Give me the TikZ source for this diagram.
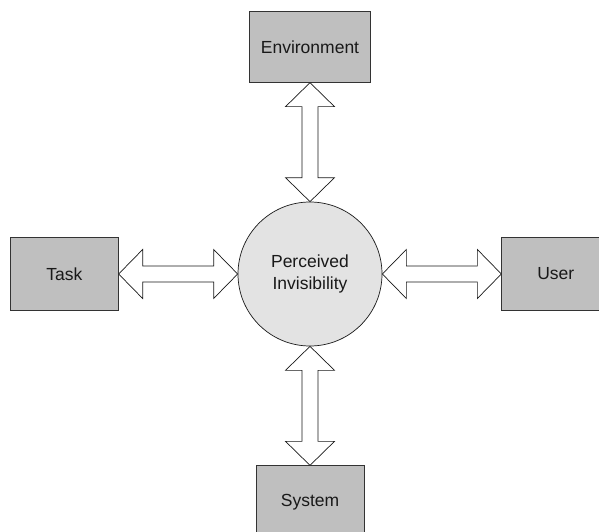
\documentclass[tikz,border=0pt]{standalone}
\usepackage{fontspec}
\setmainfont{Liberation Sans}
\usepackage{tikz}
\usetikzlibrary{positioning,calc}

\tikzset{
box/.style={draw=black!80,fill=black!25,line width=0.8pt,
  minimum width=108pt,minimum height=73pt,inner xsep=11pt},
hub/.style={circle,draw=black!90,fill=black!11,line width=0.7pt,
  minimum size=144pt,inner sep=0pt,align=center},
blockarrow/.style={draw=black!90,fill=white,line width=0.7pt,line join=miter}
}
% horizontal two-headed block arrow, left tip #1 to right tip #2
\newcommand{\harrow}[2]{%
\draw[blockarrow] (#1) -- ++(24,-24.5) -- ++(0,16.5) -- ($(#2)+(-24,-8)$)
  -- ++(0,-16.5) -- (#2) -- ++(-24,24.5) -- ++(0,-16.5) -- ($(#1)+(24,8)$)
  -- ++(0,16.5) -- cycle;}
% vertical two-headed block arrow, top tip #1 to bottom tip #2
\newcommand{\varrow}[2]{%
\draw[blockarrow] (#1) -- ++(-24.5,24) -- ++(16.5,0) -- ($(#2)+(-8,-24)$)
  -- ++(-16.5,0) -- (#2) -- ++(24.5,-24) -- ++(-16.5,0) -- ($(#1)+(8,24)$)
  -- ++(16.5,0) -- cycle;}

\begin{document}
\begin{tikzpicture}[x=1pt,y=-1pt,font=\fontsize{17.5}{22.4}\selectfont,
  text=black!90]
\useasboundingbox (0,0) rectangle (599,532);
\clip (0,0) rectangle (599,532);

\node[hub] (circ) at (310,274) {Perceived\\Invisibility};
\node[box,minimum height=71pt] (env) [above=119pt of circ] {Environment};
\node[box] (task) [left=119pt of circ] {Task};
\node[box] (user) [right=119pt of circ] {User};
\node[box] (sys) [below=119pt of circ] {System};

\varrow{env.south}{circ.north}
\varrow{circ.south}{sys.north}
\harrow{task.east}{circ.west}
\harrow{circ.east}{user.west}
\end{tikzpicture}
\end{document}
